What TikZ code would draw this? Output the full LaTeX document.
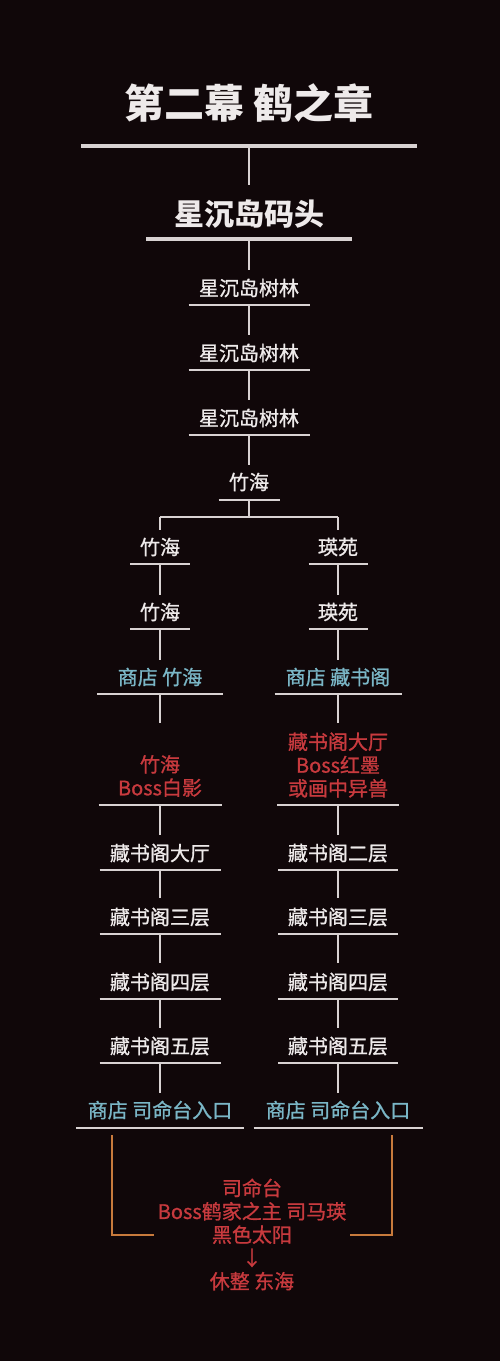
\documentclass[tikz,border=0pt]{standalone}
\usepackage{fontspec}
\setmainfont{Noto Sans CJK SC}[RawFeature={embolden=1.0}]
\newfontfamily\ttlfont{Noto Sans CJK SC}
\definecolor{bg}{HTML}{100709}
\definecolor{ln}{HTML}{D8D2D2}
\definecolor{wt}{HTML}{EEEAEA}
\definecolor{rd}{HTML}{C83A3E}
\definecolor{bl}{HTML}{7AB6C6}
\definecolor{og}{HTML}{C87A3C}
\newcommand\stg[8]{%
  \coordinate (t#1) at (#2,#3);
  \node[#7] (n#1) at (#2,#4) {#8};
  \coordinate (u#1) at (#2,#5);
  \draw[ul] (#2-#6,#5) -- (#2+#6,#5);
}
\begin{document}
\begin{tikzpicture}[x=1pt,y=-1pt,
  lbl/.style={text=wt,font=\fontsize{20}{23.3}\selectfont,inner sep=0pt,align=center},
  shop/.style={lbl,text=bl},
  boss/.style={lbl,text=rd},
  ttl/.style={text=wt,font=\ttlfont\bfseries\fontsize{40}{42}\selectfont,inner sep=0pt},
  sub/.style={text=wt,font=\ttlfont\bfseries\fontsize{30}{32}\selectfont,inner sep=0pt},
  ul/.style={draw=ln,line width=2pt},
  thick ul/.style={draw=ln,line width=4pt},
  conn/.style={draw=ln,line width=2pt},
  side/.style={draw=og,line width=2pt}]
\fill[bg] (0,0) rectangle (500,1361);
\useasboundingbox (0,0) rectangle (500,1361);

% title
\node[ttl] (title) at (249,103) {第二幕 鹤之章};
\coordinate (utitle) at (249,146);
\draw[thick ul] (81,146) -- (417,146);
\coordinate (tdock) at (249,185);
\draw[conn] (utitle) -- (tdock);
\node[sub] (ndock) at (249,214) {星沉岛码头};
\coordinate (udock) at (249,239);
\draw[thick ul,line width=3.5pt] (146,239) -- (352,239);

% trunk
\stg{f1}{249}{270}{288}{305}{60.5}{lbl}{星沉岛树林}
\stg{f2}{249}{335}{353}{370}{60.5}{lbl}{星沉岛树林}
\stg{f3}{249}{400}{418}{435}{60.5}{lbl}{星沉岛树林}
\stg{zh}{249}{465}{482}{500}{30.5}{lbl}{竹海}
\draw[conn] (udock) -- (tf1);
\draw[conn] (uf1) -- (tf2);
\draw[conn] (uf2) -- (tf3);
\draw[conn] (uf3) -- (tzh);

% left column
\stg{La}{160}{530}{547}{564}{30}{lbl}{竹海}
\stg{Lb}{160}{595}{612}{629}{30}{lbl}{竹海}
\stg{Lc}{160}{660}{677}{694}{63}{shop}{商店 竹海}
\stg{Ld}{160}{723}{776}{805}{61.5}{boss}{竹海\\Boss白影}
\stg{Le}{160}{835}{853}{870}{60.5}{lbl}{藏书阁大厅}
\stg{Lf}{160}{898}{917}{934}{60.5}{lbl}{藏书阁三层}
\stg{Lg}{160}{963}{982}{999}{60.5}{lbl}{藏书阁四层}
\stg{Lh}{160}{1028}{1046}{1063}{60.5}{lbl}{藏书阁五层}
\stg{Li}{160}{1093}{1110}{1128}{84}{shop}{商店 司命台入口}

% right column
\stg{Ra}{338}{530}{547}{564}{29.5}{lbl}{瑛苑}
\stg{Rb}{338}{595}{612}{629}{29.5}{lbl}{瑛苑}
\stg{Rc}{338}{660}{677}{694}{63.5}{shop}{商店 藏书阁}
\stg{Rd}{338}{723}{765}{805}{61}{boss}{藏书阁大厅\\Boss红墨\\或画中异兽}
\stg{Re}{338}{835}{853}{870}{60}{lbl}{藏书阁二层}
\stg{Rf}{338}{898}{917}{934}{60}{lbl}{藏书阁三层}
\stg{Rg}{338}{963}{982}{999}{60}{lbl}{藏书阁四层}
\stg{Rh}{338}{1028}{1046}{1063}{60}{lbl}{藏书阁五层}
\stg{Ri}{338}{1093}{1110}{1128}{84.5}{shop}{商店 司命台入口}

% branch
\coordinate (br) at (249,517);
\draw[conn] (uzh) -- (br);
\draw[conn] (tLa |- br) -- (tRa |- br);
\draw[conn] (tLa |- br) -- (tLa);
\draw[conn] (tRa |- br) -- (tRa);

\foreach \c in {L,R}{
  \draw[conn] (u\c a) -- (t\c b);
  \draw[conn] (u\c b) -- (t\c c);
  \draw[conn] (u\c c) -- (t\c d);
  \draw[conn] (u\c d) -- (t\c e);
  \draw[conn] (u\c e) -- (t\c f);
  \draw[conn] (u\c f) -- (t\c g);
  \draw[conn] (u\c g) -- (t\c h);
  \draw[conn] (u\c h) -- (t\c i);
}

% final
\node[boss] (fin) at (252,1234.5) {司命台\\Boss鹤家之主 司马瑛\\黑色太阳\\↓\\休整 东海};
\coordinate (sl) at (112,1135);
\coordinate (sr) at (392,1135);
\draw[side] (sl) -- (112,1235) -- (154,1235);
\draw[side] (sr) -- (392,1235) -- (350,1235);
\end{tikzpicture}
\end{document}
